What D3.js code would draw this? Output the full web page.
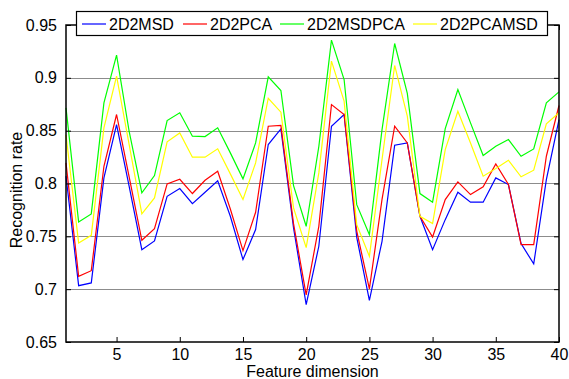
<!DOCTYPE html>
<html>
<head>
<meta charset="utf-8">
<script src="https://cdn.jsdelivr.net/npm/d3@7"></script>
<style>
  body { margin: 0; background: #fff; }
  svg text { font-family: Arial, "Liberation Sans", sans-serif; fill: #000; }
</style>
</head>
<body>
<svg id="chart"></svg>
<script>
var dims = d3.range(1, 41);

var msd = [0.807, 0.7033, 0.7059, 0.8053, 0.8558, 0.797, 0.7374, 0.7456, 0.7879, 0.7952,
  0.781, 0.7917, 0.8025, 0.769, 0.728, 0.7564, 0.8369, 0.8517, 0.758, 0.6853,
  0.7406, 0.8542, 0.8653, 0.749, 0.6895, 0.7453, 0.8362, 0.8384, 0.769, 0.7374,
  0.7658, 0.7917, 0.7823, 0.7823, 0.8053, 0.799, 0.7431, 0.7239, 0.8037, 0.8605];

var pca = [0.8195, 0.7122, 0.7175, 0.8163, 0.8653, 0.806, 0.7463, 0.7573, 0.7996, 0.804,
  0.7905, 0.8031, 0.8116, 0.7759, 0.7365, 0.7728, 0.8542, 0.8549, 0.762, 0.6945,
  0.7595, 0.8747, 0.8653, 0.755, 0.7002, 0.785, 0.8542, 0.8384, 0.769, 0.7494,
  0.7848, 0.8015, 0.7895, 0.7968, 0.8186, 0.799, 0.7422, 0.7422, 0.8258, 0.8738];

var msdpca = [0.8716, 0.7636, 0.7712, 0.8763, 0.9215, 0.849, 0.7911, 0.8075, 0.8596, 0.8669,
  0.8448, 0.8444, 0.8527, 0.829, 0.8044, 0.8384, 0.9009, 0.888, 0.798, 0.7595,
  0.835, 0.9357, 0.8984, 0.78, 0.7516, 0.851, 0.9325, 0.8852, 0.7905, 0.7823,
  0.852, 0.889, 0.8574, 0.8265, 0.8353, 0.8416, 0.8258, 0.8327, 0.8763, 0.8867];

var pcamsd = [0.846, 0.7437, 0.751, 0.8527, 0.9016, 0.8366, 0.7712, 0.7864, 0.8394, 0.8479,
  0.8249, 0.8249, 0.8328, 0.8091, 0.7848, 0.8195, 0.8807, 0.8675, 0.7769, 0.7393,
  0.81, 0.9158, 0.8779, 0.7611, 0.7311, 0.8227, 0.9117, 0.8637, 0.769, 0.7621,
  0.8321, 0.8684, 0.8384, 0.8069, 0.8141, 0.822, 0.8063, 0.8126, 0.8564, 0.8669];

var seriesNames = ["2D2MSD", "2D2PCA", "2D2MSDPCA", "2D2PCAMSD"];
var seriesValues = [msd, pca, msdpca, pcamsd];
var seriesColors = ["#0000ff", "#ff0000", "#00ff00", "#ffff00"];

var xTicks = [5, 10, 15, 20, 25, 30, 35, 40];
var yTicks = [0.65, 0.7, 0.75, 0.8, 0.85, 0.9, 0.95];
var yGrid = [0.7, 0.75, 0.8, 0.85, 0.9];

var width = 569, height = 379;
var plotL = 66, plotR = 559, plotT = 25, plotB = 342;

var svg = d3.select("#chart")
  .attr("width", width)
  .attr("height", height);

var x = d3.scaleLinear().domain([1, 40]).range([plotL, plotR]);
var y = d3.scaleLinear().domain([0.65, 0.95]).range([plotB, plotT]);

// grid lines
svg.append("g")
  .attr("class", "grid")
  .selectAll("line")
  .data(yGrid)
  .enter().append("line")
    .attr("x1", plotL)
    .attr("x2", plotR)
    .attr("y1", function (d) { return Math.round(y(d)) + 0.5; })
    .attr("y2", function (d) { return Math.round(y(d)) + 0.5; })
    .style("stroke", "#8c8c8c")
    .style("stroke-width", 1);

// series
var line = d3.line()
  .x(function (d, i) { return x(dims[i]); })
  .y(function (d) { return y(d); });

svg.append("g")
  .attr("class", "series")
  .selectAll("path")
  .data(seriesValues)
  .enter().append("path")
    .attr("d", line)
    .style("fill", "none")
    .style("stroke", function (d, i) { return seriesColors[i]; })
    .style("stroke-width", 1.2);

// axes (box, inward ticks)
var fmtY = function (d) { return String(+d.toFixed(2)); };

svg.append("g")
  .attr("transform", "translate(0," + plotB + ")")
  .call(d3.axisBottom(x).tickValues(xTicks).tickSizeInner(-5).tickSizeOuter(0).tickPadding(7))
  .call(function (g) {
    g.select(".domain").remove();
    g.selectAll("text").style("font-size", "16px").attr("font-family", null);
  });

svg.append("g")
  .attr("transform", "translate(0," + plotT + ")")
  .call(d3.axisTop(x).tickValues(xTicks).tickSizeInner(-5).tickSizeOuter(0).tickFormat(""))
  .call(function (g) { g.select(".domain").remove(); });

svg.append("g")
  .attr("transform", "translate(" + plotL + ",0)")
  .call(d3.axisLeft(y).tickValues(yTicks).tickFormat(fmtY).tickSizeInner(-5).tickSizeOuter(0).tickPadding(9))
  .call(function (g) {
    g.select(".domain").remove();
    g.selectAll("text").style("font-size", "16px").attr("font-family", null);
  });

svg.append("g")
  .attr("transform", "translate(" + plotR + ",0)")
  .call(d3.axisRight(y).tickValues(yTicks).tickSizeInner(-5).tickSizeOuter(0).tickFormat(""))
  .call(function (g) { g.select(".domain").remove(); });

svg.append("rect")
  .attr("x", plotL)
  .attr("y", plotT)
  .attr("width", plotR - plotL)
  .attr("height", plotB - plotT)
  .style("fill", "none")
  .style("stroke", "#000")
  .style("stroke-width", 1.5);

// axis titles
svg.append("text")
  .attr("x", (plotL + plotR) / 2)
  .attr("y", 377)
  .attr("text-anchor", "middle")
  .style("font-size", "16px")
  .text("Feature dimension");

svg.append("text")
  .attr("transform", "translate(22,190) rotate(-90)")
  .attr("text-anchor", "middle")
  .style("font-size", "16px")
  .text("Recognition rate");

// legend
var legend = svg.append("g").attr("class", "legend");

legend.append("rect")
  .attr("x", 76.5)
  .attr("y", 11.5)
  .attr("width", 471)
  .attr("height", 24)
  .style("fill", "#fff")
  .style("stroke", "#000")
  .style("stroke-width", 1.2);

var legendX = [82, 183, 280, 413];

var items = legend.selectAll("g.item")
  .data(seriesNames)
  .enter().append("g")
    .attr("class", "item")
    .attr("transform", function (d, i) { return "translate(" + legendX[i] + ",24)"; });

items.append("line")
  .attr("x1", 0)
  .attr("x2", 24)
  .attr("y1", 0)
  .attr("y2", 0)
  .style("stroke", function (d, i) { return seriesColors[i]; })
  .style("stroke-width", 1.2);

items.append("text")
  .attr("x", 27)
  .attr("y", 6)
  .style("font-size", "16px")
  .text(function (d) { return d; });
</script>
</body>
</html>
